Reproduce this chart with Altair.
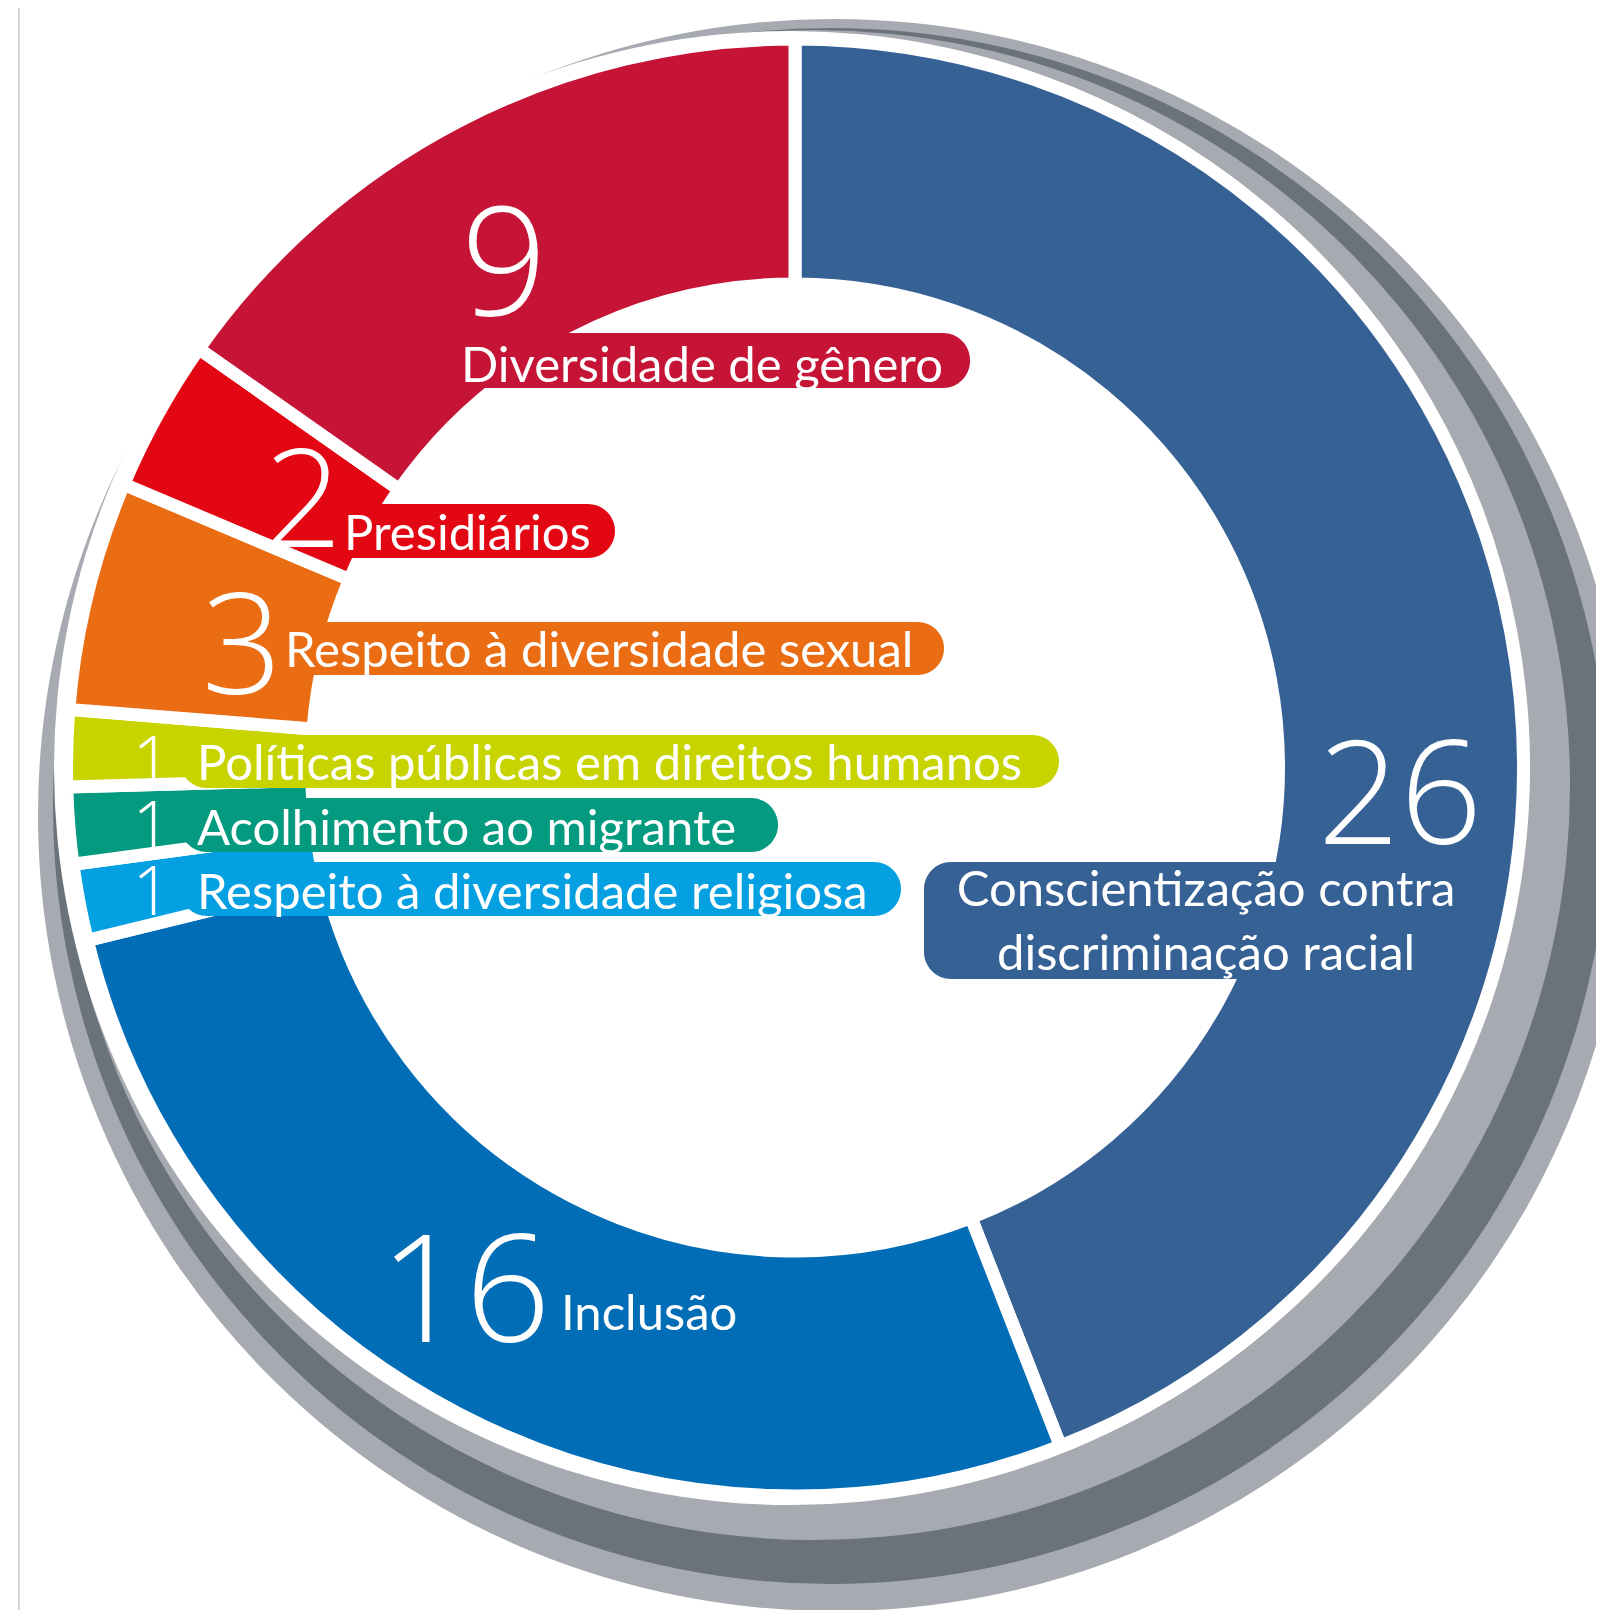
import math
import altair as alt
import pandas as pd

# ---------------- data ----------------
categories = [
    "Conscientização contra discriminação racial",
    "Inclusão",
    "Respeito à diversidade religiosa",
    "Acolhimento ao migrante",
    "Políticas públicas em direitos humanos",
    "Respeito à diversidade sexual",
    "Presidiários",
    "Diversidade de gênero",
]
values = [26, 16, 1, 1, 1, 3, 2, 9]
label_lines = [
    ["Conscientização contra", "discriminação racial"],
    ["Inclusão"],
    ["Respeito à diversidade religiosa"],
    ["Acolhimento ao migrante"],
    ["Políticas públicas em direitos humanos"],
    ["Respeito à diversidade sexual"],
    ["Presidiários"],
    ["Diversidade de gênero"],
]
colors = ["#356195", "#006DB6", "#05A0E2", "#039A80", "#C8D400", "#EA6C13", "#E30713", "#C51436"]

# ---------------- layout (page pixels) ----------------
M = 8                      # page margin
W, H = 1588, 1602
CX, CY = 795, 767.5        # donut centre
R_OUT, R_IN, GAP = 722, 490, 13
FONT = "Lato"
NUM_FONT = "Open Sans"

# shadow discs: (cx, cy, r, colour), drawn in this order
discs = [
    (834, 815, 796, "#A7ABB1"),
    (831, 806, 778, "#6B737A"),
    (815, 785, 755, "#A7ABB1"),
    (791, 768, 737, "#FFFFFF"),
]

# number labels: x (centre), baseline, font size
number_layout = [
    (1400, 844, 144),
    (465, 1342, 150),
    (152, 915, 68),
    (152, 850, 68),
    (152, 785, 68),
    (242, 694, 141),
    (303, 547, 137),
    (504, 315, 151),
]
# text labels: x, baselines, align
label_layout = [
    (1206, [906, 970], "center"),
    (561, [1330], "left"),
    (197, [909], "left"),
    (197, [845], "left"),
    (197, [780], "left"),
    (285, [667], "left"),
    (344, [550], "left"),
    (461, [382], "left"),
]
# pills: x1, x2, y1, y2 (None = no pill)
pill_layout = [
    (924, 1330, 862, 979),
    None,
    (180, 901, 862, 916),
    (180, 778, 798, 852),
    (180, 1059, 735, 788),
    (262, 944, 622, 675),
    (300, 615, 504, 558),
    (440, 970, 333, 388),
]

# ---------------- tables ----------------
df = pd.DataFrame({"category": categories, "value": values, "order": list(range(len(values)))})

color_scale = alt.Scale(domain=categories, range=colors)

pill_rows = []
for cat, box in zip(categories, pill_layout):
    if box is None:
        continue
    x1, x2, y1, y2 = box
    pill_rows.append({"category": cat, "x": x1 - M, "x2": x2 - M, "y": y1 - M, "y2": y2 - M})
pills_df = pd.DataFrame(pill_rows)

num_rows = []
for cat, v, (x, y, s) in zip(categories, values, number_layout):
    num_rows.append({"category": cat, "text": str(v), "x": x - M, "y": y - M, "size": s})
nums_df = pd.DataFrame(num_rows)

left_rows, center_rows = [], []
for cat, lines, (x, ys, al) in zip(categories, label_lines, label_layout):
    for line, y in zip(lines, ys):
        row = {"category": cat, "text": line, "x": x - M, "y": y - M}
        (center_rows if al == "center" else left_rows).append(row)
left_df = pd.DataFrame(left_rows)
center_df = pd.DataFrame(center_rows)

# ---------------- layers ----------------
rule = alt.Chart(alt.Data(values=[{}])).mark_rule(color="#C6C9CC", strokeWidth=1.5).encode(
    x=alt.value(19 - M), y=alt.value(0), y2=alt.value(H)
)

disc_layers = []
for cx, cy, r, col in discs:
    disc_layers.append(
        alt.Chart(alt.Data(values=[{}]))
        .mark_arc(outerRadius=r, innerRadius=0, color=col, stroke=None)
        .encode(
            x=alt.value(cx - M), y=alt.value(cy - M),
            theta=alt.value(0), theta2=alt.value(2 * math.pi),
        )
    )

arcs = alt.Chart(df).mark_arc(
    outerRadius=R_OUT + GAP / 2, innerRadius=R_IN - GAP / 2,
    stroke="white", strokeWidth=GAP, strokeJoin="round",
).encode(
    theta=alt.Theta("value:Q", stack=True),
    color=alt.Color("category:N", scale=color_scale, legend=None),
    order=alt.Order("order:Q"),
    x=alt.value(CX - M), y=alt.value(CY - M),
)

pills = alt.Chart(pills_df).mark_rect(cornerRadius=27).encode(
    x=alt.X("x:Q", scale=None, axis=None), x2="x2:Q",
    y=alt.Y("y:Q", scale=None, axis=None), y2="y2:Q",
    color=alt.Color("category:N", scale=color_scale, legend=None),
)

numbers = alt.Chart(nums_df).mark_text(
    font=NUM_FONT, fontWeight=300, color="white", align="center", baseline="alphabetic"
).encode(
    x=alt.X("x:Q", scale=None, axis=None),
    y=alt.Y("y:Q", scale=None, axis=None),
    size=alt.Size("size:Q", scale=None, legend=None),
    text="text:N",
)

labels_left = alt.Chart(left_df).mark_text(
    font=FONT, fontWeight=400, fontSize=49, color="white", align="left", baseline="alphabetic"
).encode(
    x=alt.X("x:Q", scale=None, axis=None),
    y=alt.Y("y:Q", scale=None, axis=None),
    text="text:N",
)

labels_center = alt.Chart(center_df).mark_text(
    font=FONT, fontWeight=400, fontSize=49, color="white", align="center", baseline="alphabetic"
).encode(
    x=alt.X("x:Q", scale=None, axis=None),
    y=alt.Y("y:Q", scale=None, axis=None),
    text="text:N",
)

chart = alt.layer(
    rule, *disc_layers, arcs, pills, numbers, labels_left, labels_center
).properties(
    width=W, height=H, padding=0, autosize=alt.AutoSizeParams(type="none"), background="white"
).configure_view(stroke=None)

chart.save("out.html", embed_options={"renderer": "svg", "actions": False})
